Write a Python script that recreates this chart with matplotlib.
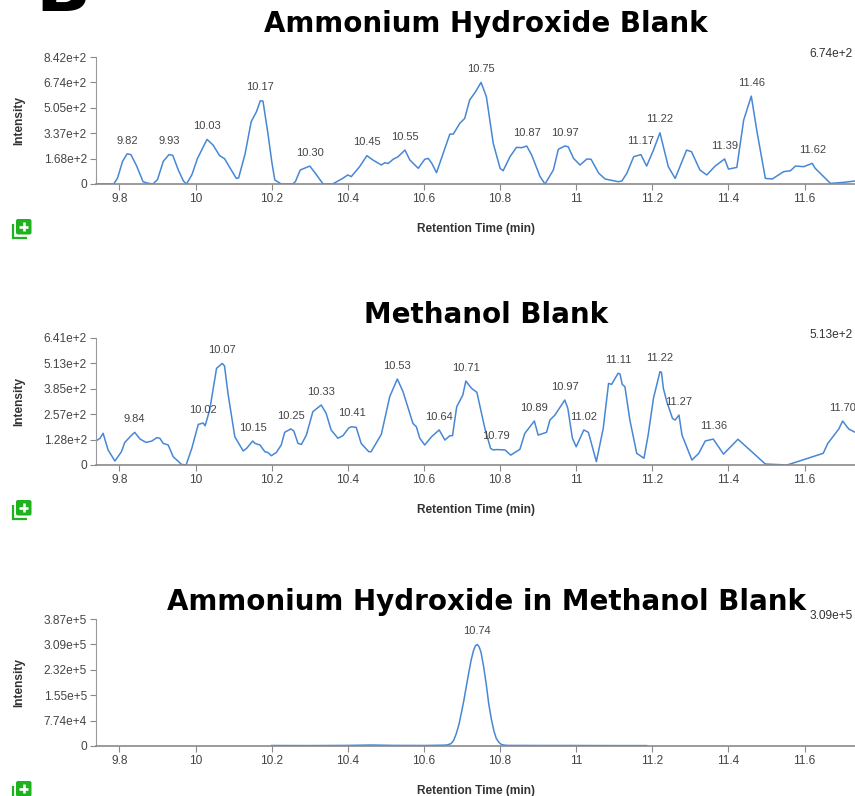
import numpy as np
import matplotlib
matplotlib.use("Agg")
import matplotlib.pyplot as plt
from matplotlib.patches import FancyBboxPatch
from matplotlib.lines import Line2D
from matplotlib.transforms import IdentityTransform

W, H = 855, 796

# ---------------- chromatogram data ----------------
# Ammonium Hydroxide Blank
ah_time = [9.738, 9.785, 9.795, 9.808, 9.820, 9.830, 9.845, 9.862, 9.875, 9.888,
           9.900, 9.915, 9.930, 9.940, 9.955, 9.968, 9.976, 9.990, 10.005, 10.030,
           10.046, 10.063, 10.076, 10.092, 10.107, 10.113, 10.130, 10.146, 10.160, 10.170,
           10.177, 10.190, 10.200, 10.208, 10.225, 10.255, 10.262, 10.275, 10.300, 10.315,
           10.335, 10.360, 10.385, 10.400, 10.409, 10.431, 10.450, 10.466, 10.488, 10.497,
           10.506, 10.519, 10.532, 10.550, 10.563, 10.585, 10.602, 10.611, 10.620, 10.633,
           10.650, 10.668, 10.677, 10.694, 10.707, 10.720, 10.735, 10.750, 10.764, 10.782,
           10.800, 10.808, 10.826, 10.843, 10.857, 10.870, 10.883, 10.905, 10.918, 10.940,
           10.953, 10.970, 10.979, 10.993, 11.010, 11.028, 11.039, 11.059, 11.076, 11.111,
           11.120, 11.133, 11.151, 11.170, 11.185, 11.203, 11.220, 11.242, 11.260, 11.290,
           11.303, 11.325, 11.343, 11.365, 11.390, 11.400, 11.422, 11.440, 11.460, 11.475,
           11.497, 11.515, 11.545, 11.563, 11.576, 11.598, 11.620, 11.628, 11.668, 11.703,
           11.733]
ah_int = [0, 0, 40, 150, 200, 195, 120, 15, 5, 0,
          30, 150, 195, 190, 90, 20, 0, 60, 170, 296,
          258, 188, 168, 100, 37, 40, 200, 413, 480, 552,
          550, 336, 150, 27, 0, 0, 15, 93, 119, 70,
          0, 0, 35, 60, 49, 115, 188, 159, 126, 141,
          136, 164, 181, 225, 159, 104, 164, 170, 140, 75,
          200, 331, 331, 402, 435, 557, 610, 674, 579, 270,
          104, 88, 181, 243, 241, 252, 192, 49, 0, 93,
          230, 252, 247, 170, 126, 166, 164, 72, 33, 15,
          20, 71, 181, 195, 119, 225, 340, 115, 37, 225,
          214, 93, 60, 119, 166, 99, 110, 424, 583, 347,
          37, 33, 82, 88, 119, 115, 137, 104, 4, 11,
          20]
ah_peaks = [9.82, 9.93, 10.03, 10.17, 10.30, 10.45, 10.55, 10.75, 10.87, 10.97,
            11.17, 11.22, 11.39, 11.46, 11.62]

# Methanol Blank
me_time = [9.738, 9.749, 9.757, 9.770, 9.788, 9.805, 9.814, 9.828, 9.840, 9.854,
           9.870, 9.885, 9.898, 9.906, 9.915, 9.928, 9.941, 9.963, 9.975, 9.990,
           10.007, 10.020, 10.025, 10.037, 10.055, 10.070, 10.076, 10.085, 10.103, 10.125,
           10.134, 10.150, 10.156, 10.169, 10.182, 10.190, 10.199, 10.212, 10.225, 10.234,
           10.250, 10.258, 10.269, 10.278, 10.291, 10.308, 10.330, 10.343, 10.356, 10.374,
           10.387, 10.403, 10.410, 10.422, 10.435, 10.455, 10.461, 10.474, 10.488, 10.510,
           10.530, 10.545, 10.571, 10.580, 10.589, 10.602, 10.620, 10.640, 10.655, 10.668,
           10.675, 10.686, 10.702, 10.710, 10.725, 10.739, 10.760, 10.775, 10.782, 10.790,
           10.813, 10.828, 10.852, 10.865, 10.890, 10.900, 10.922, 10.931, 10.944, 10.970,
           10.978, 10.990, 11.000, 11.020, 11.032, 11.053, 11.071, 11.085, 11.093, 11.110,
           11.115, 11.121, 11.128, 11.141, 11.159, 11.178, 11.189, 11.203, 11.220, 11.224,
           11.229, 11.238, 11.253, 11.260, 11.270, 11.278, 11.304, 11.322, 11.339, 11.360,
           11.387, 11.425, 11.466, 11.497, 11.554, 11.649, 11.661, 11.690, 11.700, 11.716,
           11.733]
me_int = [121, 135, 160, 76, 20, 67, 114, 143, 165, 131,
          114, 121, 138, 135, 109, 101, 42, 3, 0, 84,
          205, 212, 198, 278, 488, 513, 500, 362, 143, 71,
          84, 121, 109, 101, 67, 63, 47, 63, 101, 165,
          182, 172, 109, 104, 151, 269, 303, 261, 177, 135,
          148, 188, 193, 190, 109, 67, 67, 109, 155, 345,
          434, 370, 210, 193, 135, 101, 143, 177, 126, 148,
          148, 294, 353, 424, 387, 367, 185, 84, 76, 78,
          76, 50, 79, 160, 222, 151, 165, 227, 252, 328,
          286, 135, 92, 177, 165, 17, 185, 412, 407, 463,
          460, 407, 395, 227, 59, 34, 151, 337, 471, 468,
          387, 320, 235, 227, 252, 151, 25, 59, 121, 131,
          55, 130, 59, 5, 0, 59, 109, 182, 222, 182,
          165]
me_peaks = [9.84, 10.02, 10.07, 10.15, 10.25, 10.33, 10.41, 10.53, 10.64, 10.71,
            10.79, 10.89, 10.97, 11.02, 11.11, 11.22, 11.27, 11.36, 11.70]

# Ammonium Hydroxide in Methanol Blank
mix_time = [10.200, 10.300, 10.400, 10.460, 10.520, 10.600, 10.650, 10.660, 10.671, 10.678,
            10.685, 10.692, 10.698, 10.705, 10.711, 10.718, 10.724, 10.730, 10.735, 10.740,
            10.745, 10.750, 10.757, 10.764, 10.770, 10.777, 10.784, 10.790, 10.797, 10.803,
            10.812, 10.820, 10.900, 11.000, 11.100, 11.185]
mix_int = [1500, 1200, 1800, 3000, 1800, 1500, 2500, 3000, 7000, 17000,
           38000, 66000, 99000, 140000, 180000, 225000, 262000, 290000, 305000, 309600,
           302000, 285000, 240000, 185000, 130000, 82000, 45000, 23000, 11000, 5000,
           2500, 1800, 1500, 1500, 1200, 1200]
mix_peaks = [10.74]

# axis tick labels
x_ticks = [9.8, 10.0, 10.2, 10.4, 10.6, 10.8, 11.0, 11.2, 11.4, 11.6]
x_tick_labels = ["9.8", "10", "10.2", "10.4", "10.6", "10.8", "11", "11.2", "11.4", "11.6"]
ah_ymax = 842.5
ah_ytick_labels = ["0", "1.68e+2", "3.37e+2", "5.05e+2", "6.74e+2", "8.42e+2"]
me_ymax = 641.25
me_ytick_labels = ["0", "1.28e+2", "2.57e+2", "3.85e+2", "5.13e+2", "6.41e+2"]
mix_ymax = 387000
mix_ytick_labels = ["0", "7.74e+4", "1.55e+5", "2.32e+5", "3.09e+5", "3.87e+5"]
max_labels = ["6.74e+2", "5.13e+2", "3.09e+5"]
titles = ["Ammonium Hydroxide Blank", "Methanol Blank", "Ammonium Hydroxide in Methanol Blank"]

panels = [
    dict(t=ah_time, y=ah_int, peaks=ah_peaks, ymax=ah_ymax, ylabels=ah_ytick_labels),
    dict(t=me_time, y=me_int, peaks=me_peaks, ymax=me_ymax, ylabels=me_ytick_labels),
    dict(t=mix_time, y=mix_int, peaks=mix_peaks, ymax=mix_ymax, ylabels=mix_ytick_labels),
]

# ---------------- styling ----------------
LINE = "#4787d6"
TXT = "#444444"
SPINE = "#8a8a8a"
SANS = ["Liberation Sans", "DejaVu Sans"]
XMIN, XMAX = 9.7383, 11.7325

axes_top_px = [57, 338, 619]
axes_h_px = 127
axes_left_px = 96
title_base_px = [32.3, 323.3, 610.0]

fig = plt.figure(figsize=(W / 100, H / 100), dpi=100)
fig.patch.set_facecolor("white")

# panel letter, partly cut off by the top edge
fig.text(35 / W, 1 - 10.7 / H, "B", fontsize=52, fontweight="bold",
         family="DejaVu Sans", color="black", ha="left", va="baseline")


def add_icon(top_px):
    """Green 'add' button drawn next to each chart."""
    tr = IdentityTransform()
    x0, size = 16.0, 15.5
    y_top = H - top_px
    box = FancyBboxPatch((x0, y_top - size), size, size,
                         boxstyle="round,pad=0,rounding_size=2",
                         facecolor="#1fb21f", edgecolor="none", transform=tr)
    fig.add_artist(box)
    cx, cy = x0 + size / 2, y_top - size / 2
    for xs, ys in (([cx - 4.5, cx + 4.5], [cy, cy]), ([cx, cx], [cy - 4.5, cy + 4.5])):
        fig.add_artist(Line2D(xs, ys, color="white", lw=1.9, transform=tr,
                              solid_capstyle="butt"))
    fig.add_artist(Line2D([12.8, 12.8, 27.0], [y_top - 5, y_top - 18.5, y_top - 18.5],
                          color="#1fb21f", lw=1.6, transform=tr,
                          solid_capstyle="butt", solid_joinstyle="miter"))


for i, p in enumerate(panels):
    top = axes_top_px[i]
    ax = fig.add_axes([axes_left_px / W, 1 - (top + axes_h_px) / H,
                       (W - axes_left_px) / W, axes_h_px / H])
    ax.plot(p["t"], p["y"], color=LINE, lw=1.1, solid_joinstyle="round")
    ax.set_xlim(XMIN, XMAX)
    ax.set_ylim(0, p["ymax"])

    ax.set_xticks(x_ticks)
    ax.set_xticklabels(x_tick_labels)
    ax.set_yticks([p["ymax"] * k / 5 for k in range(6)])
    ax.set_yticklabels(p["ylabels"])
    ax.tick_params(axis="both", length=4.5, width=0.8, color=SPINE,
                   labelsize=8.6, labelcolor=TXT, pad=2)
    for lab in ax.get_xticklabels() + ax.get_yticklabels():
        lab.set_family(SANS)

    for s in ("top", "right"):
        ax.spines[s].set_visible(False)
    ax.spines["left"].set_color("#9a9a9a")
    ax.spines["left"].set_linewidth(0.8)
    ax.spines["bottom"].set_color(SPINE)
    ax.spines["bottom"].set_linewidth(1.2)
    ax.patch.set_alpha(0)

    ax.set_xlabel("Retention Time (min)", fontsize=8.6, fontweight="bold",
                  color="#333333", family=SANS)
    ax.xaxis.set_label_coords(0.5, -39 / axes_h_px)
    ax.set_ylabel("Intensity", fontsize=8.6, fontweight="bold",
                  color="#333333", family=SANS)
    ax.yaxis.set_label_coords(-71 / (W - axes_left_px), 0.5)

    # retention-time labels above each peak
    for pt in p["peaks"]:
        py = np.interp(pt, p["t"], p["y"])
        ax.annotate(f"{pt:.2f}", xy=(pt, py), xytext=(0, 6), textcoords="offset points",
                    ha="center", va="bottom", fontsize=8, color=TXT, family=SANS,
                    annotation_clip=False)

    # maximum intensity readout
    ax.text(0.997, 1 + 3 / axes_h_px, max_labels[i], transform=ax.transAxes,
            ha="right", va="center", fontsize=8.6, color="#333333", family=SANS)

    fig.text(486 / W, 1 - title_base_px[i] / H, titles[i], fontsize=20,
             fontweight="bold", family="DejaVu Sans", color="black",
             ha="center", va="baseline")

    add_icon(top + axes_h_px + 35)

fig.savefig("out.png", dpi=100)
